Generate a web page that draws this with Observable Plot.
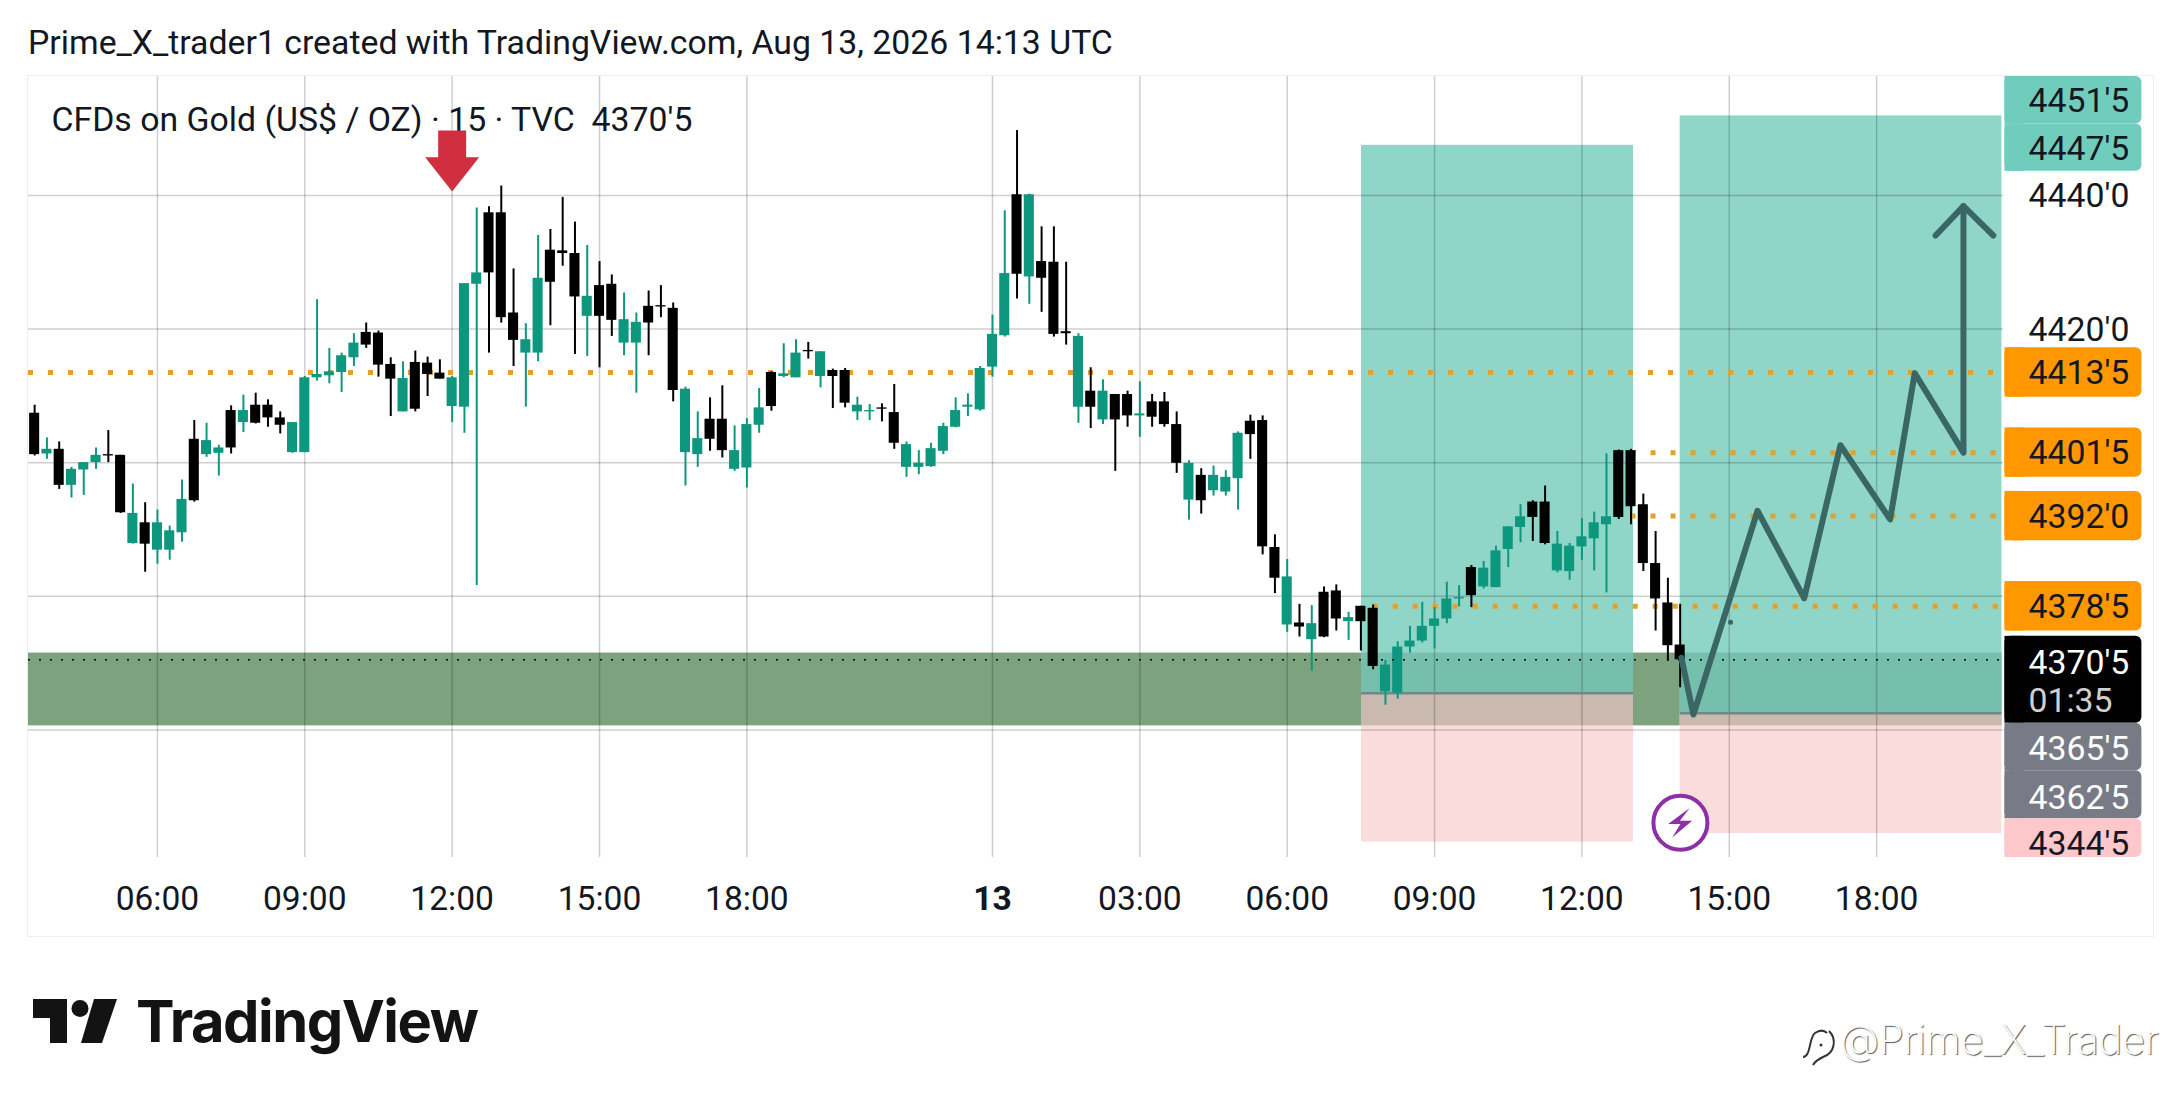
<!DOCTYPE html>
<html>
<head>
<meta charset="utf-8">
<script src="https://cdn.jsdelivr.net/npm/d3@7"></script>
<script src="https://cdn.jsdelivr.net/npm/@observablehq/plot@0.6"></script>
<style>
html,body{margin:0;padding:0;background:#fff;width:2181px;height:1106px;overflow:hidden;font-family:Roboto,sans-serif;color:#131722}
#head{position:absolute;left:28px;top:24px;font-size:33.8px;line-height:38px;white-space:nowrap}
#box{position:absolute;left:27px;top:75px;width:2125px;height:860px;border:1px solid #eeeeee}
#chart{position:absolute;left:0;top:76px}
#brand{position:absolute;left:136px;top:987px;font:700 57.8px/68px Inter,sans-serif;letter-spacing:-1.5px;color:#131313;white-space:nowrap}
#logo{position:absolute;left:33px;top:999px}
#mark{position:absolute;left:1840px;top:1012px;font:200 40.2px/56px Inter,sans-serif;color:#fff;text-shadow:1px 1px 1px #555;white-space:nowrap;letter-spacing:-.3px}
#glyph{position:absolute;left:1801px;top:1025px}
</style>
</head>
<body>
<div id="head">Prime_X_trader1 created with TradingView.com, Aug 13, 2026 14:13 UTC</div>
<div id="box"></div>
<div id="chart"></div>
<svg id="logo" width="86" height="46" viewBox="0 0 86 46"><path fill="#131313" d="M0 0H34V44H17V19H0Z"/><circle fill="#131313" cx="47" cy="9.5" r="8.5"/><path fill="#131313" d="M61 0H84L69 44H48Z"/></svg>
<div id="brand">TradingView</div>
<svg id="glyph" width="38" height="44" viewBox="0 0 38 44"><path fill="none" stroke="#333" stroke-width="2" d="M2 32 C10 32 8 12 14 8 C20 4 24 6 26 8 M28 6 C36 14 34 28 22 32 C18 34 14 36 12 40"/><circle cx="20" cy="20" r="1.5" fill="#333"/></svg>
<div id="mark">@Prime_X_Trader</div>
<script>
// Candles, one 15-minute bar each, first bar index -10 (03:30); index 0 is 06:00
const firstBar = -10;
const high = [
4408.6,4403.7,4403.1,4399.3,4400.0,4402.2,4404.8,4401.1,4396.8,4394.0,
4392.9,4390.5,4397.4,4406.3,4405.9,4402.6,4408.5,4410.1,4410.4,4409.4,
4407.6,4406.0,4412.9,4424.4,4417.1,4416.4,4419.3,4420.9,4419.7,4415.7,
4415.1,4416.7,4415.8,4415.4,4412.9,4426.8,4438.1,4438.3,4441.4,4429.0,
4420.8,4434.0,4434.9,4439.7,4436.0,4432.5,4430.1,4428.1,4425.4,4422.4,
4425.7,4426.5,4423.9,4411.3,4407.6,4409.7,4411.5,4405.5,4406.6,4411.1,
4413.6,4417.8,4418.4,4418.0,4416.6,4414.0,4414.1,4409.8,4408.7,4408.8,
4411.7,4403.1,4401.8,4402.9,4405.9,4409.7,4410.3,4414.4,4422.1,4437.7,
4449.7,4440.2,4435.3,4435.3,4430.0,4419.3,4414.2,4412.4,4410.2,4410.7,
4412.1,4410.2,4410.5,4407.6,4400.3,4399.1,4399.5,4398.8,4404.6,4407.1,
4407.0,4389.2,4385.5,4378.8,4378.6,4381.4,4381.7,4377.6,4378.5,4378.7,
4370.4,4373.2,4375.5,4379.1,4378.3,4382.1,4381.6,4384.6,4385.2,4387.5,
4390.4,4393.7,4394.3,4396.5,4389.7,4387.9,4391.6,4392.6,4401.3,4401.9,
4402.0,4395.3,4389.7,4382.7,4378.8];
const bodyTop = [
4407.4,4402.0,4402.0,4399.0,4400.0,4401.1,4401.2,4401.1,4392.4,4391.0,
4391.0,4389.8,4394.5,4403.5,4403.3,4402.2,4407.8,4407.8,4408.6,4408.6,
4406.7,4406.0,4412.7,4413.2,4413.6,4416.0,4417.9,4419.5,4419.4,4414.7,
4412.6,4415.0,4414.9,4413.4,4412.7,4426.8,4428.4,4437.4,4437.4,4422.4,
4418.4,4427.6,4431.8,4431.7,4431.3,4424.9,4426.5,4426.7,4421.4,4421.0,
4423.4,4423.5,4423.1,4411.0,4403.6,4406.5,4406.5,4401.8,4405.7,4408.2,
4413.5,4413.3,4416.4,4416.8,4416.6,4413.8,4413.8,4408.6,4407.8,4408.2,
4407.5,4402.7,4399.9,4402.1,4405.4,4407.8,4408.6,4414.1,4419.2,4428.3,
4440.1,4440.1,4430.1,4430.0,4419.6,4418.9,4410.7,4410.7,4410.2,4410.2,
4407.3,4409.1,4409.1,4405.7,4399.9,4398.1,4398.1,4397.8,4404.4,4406.2,
4406.3,4387.3,4382.9,4376.0,4375.9,4380.6,4380.8,4376.8,4378.5,4378.2,
4369.7,4372.4,4373.3,4375.5,4376.6,4379.6,4379.8,4384.3,4384.2,4386.8,
4390.4,4391.9,4394.1,4394.1,4387.8,4387.5,4388.9,4391.0,4391.9,4401.8,
4401.8,4393.7,4384.9,4379.0,4372.7];
const bodyBottom = [
4401.2,4401.3,4396.6,4396.6,4398.9,4400.0,4401.0,4392.5,4387.9,4387.8,
4386.9,4386.9,4389.5,4394.3,4401.2,4401.4,4402.2,4406.0,4405.9,4406.7,
4405.6,4401.5,4401.5,4412.7,4413.0,4413.5,4415.7,4417.6,4414.6,4412.5,
4407.6,4408.0,4413.2,4412.5,4408.4,4408.3,4426.7,4428.4,4421.7,4418.3,
4416.4,4416.4,4427.0,4431.3,4424.8,4421.9,4421.9,4421.3,4417.9,4417.9,
4420.9,4423.3,4410.8,4401.5,4401.2,4403.5,4401.8,4399.0,4399.2,4405.6,
4408.4,4412.9,4412.7,4416.6,4412.9,4412.9,4408.9,4407.6,4407.6,4408.0,
4402.9,4399.3,4399.3,4399.4,4401.7,4405.3,4408.3,4407.9,4414.3,4419.0,
4428.2,4427.8,4427.6,4419.2,4419.3,4408.3,4408.3,4406.4,4406.4,4407.0,
4407.0,4406.8,4405.7,4399.9,4394.4,4394.3,4395.8,4395.6,4397.6,4404.2,
4387.4,4382.7,4375.7,4375.4,4373.5,4373.9,4376.6,4376.2,4376.2,4369.5,
4365.7,4365.5,4372.4,4373.3,4375.5,4376.6,4379.6,4380.1,4381.4,4381.3,
4387.0,4390.3,4391.8,4387.9,4383.8,4383.7,4387.4,4388.6,4390.7,4391.8,
4393.4,4384.9,4379.6,4372.6,4370.5];
const low = [
4401.0,4400.5,4396.0,4394.7,4395.1,4399.0,4400.0,4392.4,4387.8,4383.6,
4384.8,4385.4,4388.1,4394.1,4400.8,4398.0,4401.3,4404.5,4405.8,4405.3,
4404.3,4401.4,4401.5,4412.2,4411.8,4410.5,4414.4,4417.1,4412.8,4406.9,
4407.6,4407.6,4409.9,4412.5,4406.0,4404.4,4381.6,4416.4,4420.9,4414.4,
4408.3,4415.1,4420.5,4429.4,4416.2,4415.9,4414.2,4418.9,4416.0,4410.4,
4416.0,4421.7,4409.1,4396.5,4399.3,4401.7,4400.7,4398.7,4396.2,4404.4,
4407.7,4412.7,4412.7,4415.5,4411.2,4408.1,4408.2,4406.3,4406.3,4406.1,
4402.0,4397.8,4398.2,4399.3,4401.2,4405.2,4406.9,4407.7,4412.8,4418.8,
4424.5,4423.7,4422.5,4418.8,4417.6,4405.9,4405.1,4405.7,4398.7,4405.3,
4403.8,4405.3,4405.3,4398.4,4391.4,4392.3,4395.0,4395.0,4392.9,4400.5,
4386.2,4380.4,4374.6,4373.9,4368.8,4373.8,4374.8,4373.4,4371.8,4369.0,
4363.7,4364.6,4371.5,4373.0,4372.1,4375.9,4378.4,4378.3,4381.1,4381.3,
4384.3,4388.0,4388.2,4387.7,4383.5,4382.4,4385.4,4383.8,4380.5,4391.5,
4390.7,4383.7,4374.8,4370.3,4366.3];
const direction = (
"dudu uudd u" + "duuu duud ud" + "dduu uuuu dd" + "dudd duuu dd" + "duud ddud du" +
"uddd uudd uu" + "uduu dudd uu" + "dduu uuuu uu" + "udud ddud ud" + "dudd dudu uu" +
"dddu dudd ud" + "duuu uuuu du" + "uuud duuu uu" + "ddddd").replace(/ /g, "");

// Axis ticks
const timeTickBars = [0, 12, 24, 36, 48, 80, 92, 104, 116, 128, 140];
const timeTickLabels = ["06:00","09:00","12:00","15:00","18:00","03:00","06:00","09:00","12:00","15:00","18:00"];
const dayTickBars = [68];
const dayTickLabels = ["13"];
const priceGrid = [4440, 4420, 4400, 4380, 4360];
const priceTicks = [4440, 4420];

// Horizontal levels
const levelPrices = [4413.5, 4401.5, 4392, 4378.5];
const levelStart = [-10.5, 120, 120, 99];
const lastPrice = 4370.5;
const entryPrices = [4365.5, 4362.5];
const entryStart = [98.05, 124];
const entryEnd = [120.2, 150.2];

// Zones: support band, two long positions, and the overlaps between them
const zoneStart = [-10.5, 98.05, 98.05, 98.05, 98.05, 124, 124, 124, 124];
const zoneEnd   = [150.2, 120.2, 120.2, 120.2, 120.2, 150.2, 150.2, 150.2, 150.2];
const zoneLow   = [4360.6, 4365.5, 4343.2, 4365.5, 4360.6, 4362.5, 4344.5, 4362.5, 4360.6];
const zoneHigh  = [4371.5, 4447.5, 4365.5, 4371.5, 4365.5, 4451.9, 4362.5, 4371.5, 4362.5];
const zoneFill  = ["#7ca37e","#8fd6c8","#fbdcdd","#76bfac","#c9b9ae","#8fd6c8","#fbdcdd","#76bfac","#c9b9ae"];

// Hand-drawn forecast path and its arrowhead
const pathBars   = [124.1, 125.08, 130.3, 134.1, 137.05, 141.1, 143.1, 147.07, 147.07];
const pathPrices = [4370.8, 4362.3, 4392.8, 4379.7, 4402.6, 4391.5, 4413.4, 4401.5, 4438.4];
const headBars   = [144.8, 147.07, 149.5];
const headPrices = [4434, 4438.4, 4434];
const dotBar = 128.1, dotPrice = 4376.1;

// Red sell arrow
const sellBars   = [22.86, 25.14, 25.14, 26.2, 24, 21.8, 22.86];
const sellPrices = [4449.7, 4449.7, 4445.7, 4445.7, 4440.6, 4445.7, 4445.7];

// Purple event badge
const badgeBar = 124.02, badgePrice = 4346.1;
const boltBars   = [124.78, 123.02, 124.02, 123.35, 124.98, 123.98];
const boltPrices = [4348.3, 4345.9, 4345.9, 4343.9, 4346.4, 4346.4];

// Right-hand price tags
const tagTop    = [4457.8, 4450.7, 4417.2, 4405.2, 4395.7, 4382.2, 4374.0, 4361.0, 4353.9, 4346.7];
const tagBottom = [4450.7, 4443.6, 4409.8, 4397.8, 4388.3, 4374.8, 4361.0, 4353.9, 4346.7, 4340.9];
const tagFill   = ["#70cdbd","#70cdbd","#ff9800","#ff9800","#ff9800","#ff9800","#000000","#787b86","#787b86","#fcc8cc"];
const tagText   = ["4451'5","4447'5","4413'5","4401'5","4392'0","4378'5","4370'5","01:35","4365'5","4362'5","4344'5"];
const tagTextAt = [4454.2, 4447.1, 4413.5, 4401.5, 4392, 4378.5, 4370.2, 4364.4, 4357.2, 4350.0, 4343.0];
const tagInk    = ["#131722","#131722","#131722","#131722","#131722","#131722","#ffffff","#cfcfcf","#ffffff","#ffffff","#131722"];

const up = "#0d977e", down = "#000000";
const bars = high.map((h, k) => ({
  i: firstBar + k, high: h, low: low[k], top: bodyTop[k], bottom: bodyBottom[k],
  color: direction[k] === "u" ? up : down
}));
const zones = zoneFill.map((f, k) => ({x1: zoneStart[k], x2: zoneEnd[k], y1: zoneLow[k], y2: zoneHigh[k], fill: f}));
const levels = levelPrices.map((p, k) => ({p, s: levelStart[k]}));
const entries = entryPrices.map((p, k) => ({p, s: entryStart[k], e: entryEnd[k]}));
const tags = tagFill.map((f, k) => ({y1: tagTop[k], y2: tagBottom[k], fill: f}));
const tagLabels = tagText.map((t, k) => ({t, y: tagTextAt[k], ink: tagInk[k]}));
const pts = (xs, ys) => xs.map((x, k) => ({x, y: ys[k]}));
const right = 150.33;
const font = "Roboto";
const pathColor = "#3a6663";

const chart = Plot.plot({
  width: 2181, height: 860,
  marginTop: 0, marginBottom: 79, marginLeft: 28, marginRight: 178,
  style: {background: "transparent", fontFamily: font, overflow: "visible"},
  x: {domain: [-10.5, right], axis: null},
  y: {domain: [4340.9, 4457.8], axis: null},
  color: {type: "identity"},
  marks: [
    Plot.rect(zones, {x1: "x1", x2: "x2", y1: "y1", y2: "y2", fill: "fill"}),
    Plot.ruleX([...timeTickBars, ...dayTickBars], {stroke: "#000", strokeOpacity: 0.19, strokeWidth: 1.5}),
    Plot.ruleY(priceGrid, {x1: -10.5, x2: right, stroke: "#000", strokeOpacity: 0.19, strokeWidth: 1.5}),
    Plot.ruleY(entries, {y: "p", x1: "s", x2: "e", stroke: "#6f8a85", strokeWidth: 2.5}),
    Plot.ruleY(levels, {y: "p", x1: "s", x2: right, stroke: "#e3a12c", strokeWidth: 5, strokeDasharray: "5 15"}),
    Plot.text(["CFDs on Gold (US$ / OZ) · 15 · TVC\u00a0\u00a04370'5"], {frameAnchor: "top-left", dx: 23, dy: 44, lineAnchor: "middle", fontSize: 33.8, fill: "#131722"}),
    Plot.ruleX(bars, {x: "i", y1: "low", y2: "high", stroke: "color", strokeWidth: 2}),
    Plot.rect(bars, {x1: d => d.i - 0.41, x2: d => d.i + 0.41, y1: "bottom", y2: "top", fill: "color"}),
    Plot.ruleY([lastPrice], {x1: -10.5, x2: right, stroke: "#000", strokeWidth: 1.6, strokeDasharray: "2 9"}),
    Plot.line(pts(sellBars, sellPrices), {x: "x", y: "y", fill: "#cf2f3f", stroke: "none"}),
    Plot.line(pts(pathBars, pathPrices), {x: "x", y: "y", stroke: pathColor, strokeWidth: 6, strokeLinejoin: "round", strokeLinecap: "round"}),
    Plot.line(pts(headBars, headPrices), {x: "x", y: "y", stroke: pathColor, strokeWidth: 6, strokeLinejoin: "round", strokeLinecap: "round"}),
    Plot.dot([{x: dotBar, y: dotPrice}], {x: "x", y: "y", r: 2.5, fill: pathColor, stroke: "none"}),
    Plot.dot([{x: badgeBar, y: badgePrice}], {x: "x", y: "y", r: 27, fill: "#fff", stroke: "#8e2fa8", strokeWidth: 4}),
    Plot.line(pts(boltBars, boltPrices), {x: "x", y: "y", fill: "#8e2fa8", stroke: "none"}),
    // Price tags
    Plot.rect(tags, {x1: 150.45, x2: 161.6, y1: "y1", y2: "y2", fill: "fill", rx: 6}),
    Plot.rect(tags, {x1: 150.45, x2: 152, y1: "y1", y2: "y2", fill: "fill"}),
    Plot.text(tagLabels, {x: 152.36, y: "y", text: "t", fill: "ink", textAnchor: "start", lineAnchor: "middle", fontSize: 33.8, dy: 1}),
    // Axes
    Plot.axisX({ticks: timeTickBars, tickSize: 0, tickPadding: 29, fontSize: 33.6, tickFormat: d => timeTickLabels[timeTickBars.indexOf(d)], label: null, color: "#131722"}),
    Plot.axisX({ticks: dayTickBars, tickSize: 0, tickPadding: 29, fontSize: 33.6, fontWeight: "bold", tickFormat: d => dayTickLabels[dayTickBars.indexOf(d)], label: null, color: "#131722"}),
    Plot.axisY({ticks: priceTicks, anchor: "right", tickSize: 0, tickPadding: 25, fontSize: 33.8, dy: 1, tickFormat: d => d + "'0", label: null, color: "#131722"})
  ]
});
document.getElementById("chart").appendChild(chart);
</script>
</body>
</html>
